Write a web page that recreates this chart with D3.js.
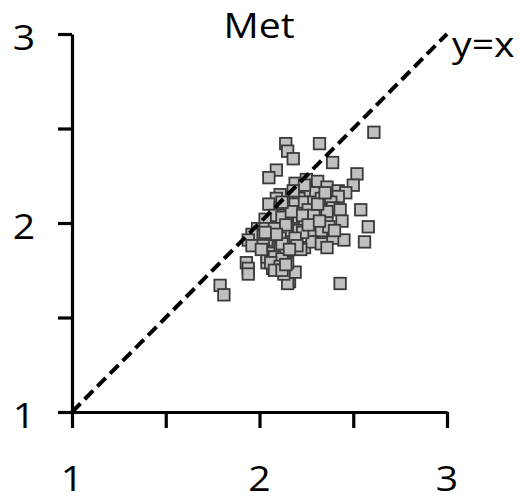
<!DOCTYPE html>
<html>
<head>
<meta charset="utf-8">
<script src="https://cdn.jsdelivr.net/npm/d3@7"></script>
<style>
  body { margin: 0; background: #fff; }
  text { font-family: "Open Sans", sans-serif; fill: #000; }
</style>
</head>
<body>
<div id="chart"></div>
<script>
const title = 'Met';
const diagLabel = 'y=x';
const tickValues = [1, 1.5, 2, 2.5, 3];
const labelValues = [1, 2, 3];

// [x, y] pairs
const metPoints = [
  [2.61, 2.48], [2.32, 2.42], [2.14, 2.42], [2.15, 2.38], [2.18, 2.34], [2.39, 2.32],
  [2.09, 2.28], [2.05, 2.24], [2.52, 2.26], [2.50, 2.20], [2.54, 2.07], [2.58, 1.98],
  [2.56, 1.90], [2.45, 1.91], [2.39, 1.92], [2.43, 1.68], [1.79, 1.67], [1.81, 1.62],
  [1.93, 1.79], [1.94, 1.76], [1.94, 1.73], [2.16, 1.69], [2.15, 1.68], [2.19, 1.74],
  [2.15, 1.79], [2.05, 1.83], [2.04, 1.79], [2.07, 1.76], [2.13, 1.73],
  [2.19, 2.21], [2.25, 2.23], [2.31, 2.22], [2.36, 2.19], [2.42, 2.17], [2.46, 2.16],
  [2.25, 2.17], [2.30, 2.16], [2.36, 2.14], [2.42, 2.14], [2.16, 2.14], [2.21, 2.13],
  [2.11, 2.15], [2.09, 2.13], [2.14, 2.08], [2.19, 2.10], [2.24, 2.11], [2.29, 2.11],
  [2.33, 2.13], [2.38, 2.11], [2.39, 2.08], [2.20, 2.05], [2.26, 2.07], [2.31, 2.07],
  [2.36, 2.06], [2.05, 2.10], [2.11, 2.08], [2.08, 2.04], [2.13, 2.04], [2.15, 2.01],
  [2.21, 2.01], [2.28, 2.01], [2.36, 2.00], [2.03, 2.02], [2.12, 2.03], [1.99, 1.97],
  [2.03, 1.97], [2.08, 1.97], [2.18, 1.97], [2.21, 1.96], [2.28, 1.96], [2.33, 1.96],
  [2.37, 1.98], [2.14, 1.95], [1.96, 1.94], [2.02, 1.93], [2.06, 1.91], [2.11, 1.92],
  [1.94, 1.91], [1.96, 1.88], [2.02, 1.88], [2.10, 1.87], [2.17, 1.90], [2.24, 1.87],
  [2.28, 1.90], [2.33, 1.89], [2.36, 1.87], [2.22, 1.86], [2.06, 1.84], [2.11, 1.86],
  [2.04, 1.82], [2.08, 1.82], [2.12, 1.81], [2.06, 1.79], [2.11, 1.77], [2.08, 1.75],
  [2.12, 1.75], [2.23, 1.95], [2.43, 2.07], [2.44, 2.01],
  [2.17, 2.06], [2.23, 2.04], [2.29, 2.04], [2.14, 1.99], [2.19, 1.92], [2.26, 1.99],
  [2.32, 2.01], [2.12, 1.89], [2.20, 1.88], [2.16, 1.86], [2.31, 2.10], [2.35, 2.16],
  [2.24, 2.20], [2.12, 2.11], [2.18, 2.17], [2.40, 1.96], [2.09, 1.94], [2.01, 1.86],
  [2.14, 1.78], [2.03, 1.95]
];

const width = 528;
const height = 497;
const fontSize = 35;
const stretch = 1.12;

const svg = d3.select('#chart').append('svg')
  .attr('width', width)
  .attr('height', height);

const x = d3.scaleLinear().domain([1, 3]).range([72, 447]);
const y = d3.scaleLinear().domain([1, 3]).range([412, 34]);

const xAxis = svg.append('g')
  .attr('transform', 'translate(0,' + y(1) + ')')
  .call(d3.axisBottom(x).tickValues(tickValues).tickSize(16).tickSizeOuter(0).tickFormat(''));
const yAxis = svg.append('g')
  .attr('transform', 'translate(' + x(1) + ',0)')
  .call(d3.axisLeft(y).tickValues(tickValues).tickSize(14).tickSizeOuter(0).tickFormat(''));
[xAxis, yAxis].forEach(a => {
  a.selectAll('path, line').attr('stroke', '#000').attr('stroke-width', 3.2);
});

// squares
const size = 11.5;
svg.append('g').selectAll('rect')
  .data(metPoints)
  .enter()
  .append('rect')
  .attr('x', d => x(d[0]) - size / 2)
  .attr('y', d => y(d[1]) - size / 2)
  .attr('width', size)
  .attr('height', size)
  .attr('fill', '#c0c0c0')
  .attr('stroke', '#3a3a3a')
  .attr('stroke-width', 1.8);

// y = x line
svg.append('line')
  .attr('x1', x(1)).attr('y1', y(1))
  .attr('x2', x(3)).attr('y2', y(3))
  .attr('stroke', '#000')
  .attr('stroke-width', 4)
  .attr('stroke-dasharray', '12,6');

// text is drawn a bit wide like the original
const addText = (str, tx, ty, anchor) => {
  svg.append('g')
    .attr('transform', 'translate(' + tx + ',' + ty + ') scale(' + stretch + ',1)')
    .append('text')
    .attr('text-anchor', anchor)
    .style('font-size', fontSize + 'px')
    .text(str);
};

labelValues.forEach(v => {
  addText(v, x(v), 491, 'middle');
  addText(v, 24, y(v) + 16, 'middle');
});
addText(title, 259, 38, 'middle');
addText(diagLabel, 452, 57, 'start');
</script>
</body>
</html>
